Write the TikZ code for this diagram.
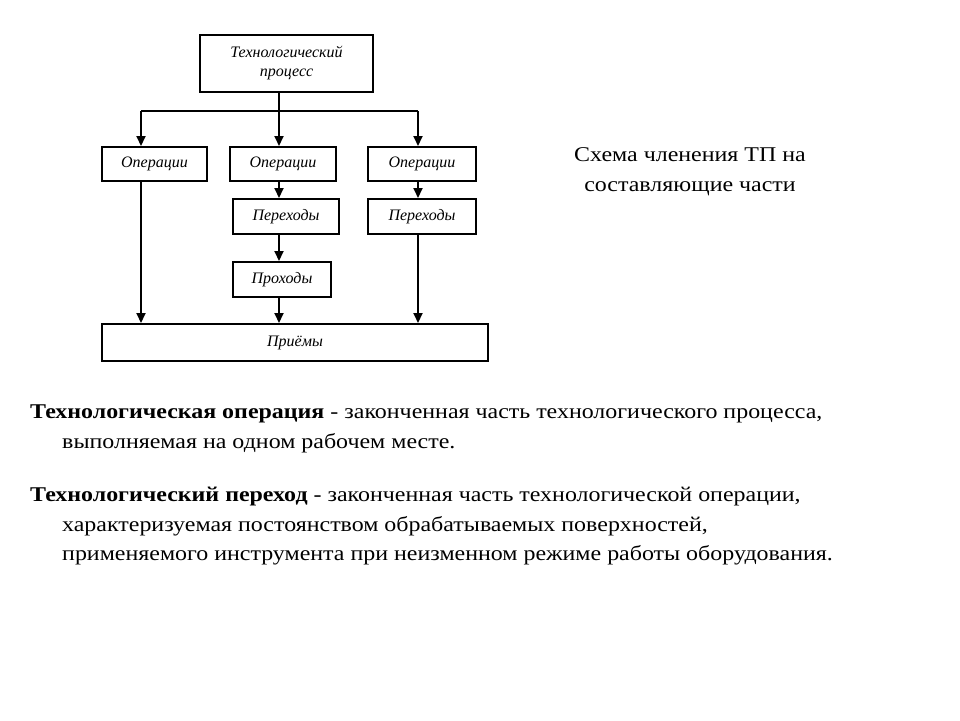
\documentclass[tikz,border=0pt]{standalone}
\usepackage{fontspec}
\setmainfont{Liberation Serif}
\newfontfamily\widefont[FakeStretch=1.14]{Liberation Serif}
\usetikzlibrary{arrows.meta}
\begin{document}
\begin{tikzpicture}[x=1pt,y=-1pt,
  blk/.style={draw,line width=2pt,inner sep=0pt,font=\itshape\fontsize{16}{19}\selectfont,align=center},
  arr/.style={line width=2pt,-{Triangle[length=10pt,width=9pt]}},
  ln/.style={line width=2pt},
  txt/.style={anchor=north west,inner sep=0pt,font=\widefont\fontsize{21}{29.5}\selectfont,align=left}]
\useasboundingbox (0,0) rectangle (960,720);
\node[blk,minimum width=173pt,minimum height=57pt] (tp) at (286.5,63.5) {Технологический\\процесс};
\node[blk,minimum width=105pt,minimum height=34pt] (op1) at (154.5,164) {Операции};
\node[blk,minimum width=106pt,minimum height=34pt] (op2) at (283,164) {Операции};
\node[blk,minimum width=108pt,minimum height=34pt] (op3) at (422,164) {Операции};
\node[blk,minimum width=106pt,minimum height=35pt] (pe2) at (286,216.5) {Переходы};
\node[blk,minimum width=108pt,minimum height=35pt] (pe3) at (422,216.5) {Переходы};
\node[blk,minimum width=98pt,minimum height=35pt] (pr2) at (282,279.5) {Проходы};
\node[blk,minimum width=386pt,minimum height=37pt] (pm) at (295,342.5) {Приёмы};
\coordinate (bl) at (141,111);
\coordinate (bm) at (279,111);
\coordinate (br) at (418,111);
\draw[ln] (tp.south -| bm) -- (bm);
\draw[ln] (bl) -- (br);
\draw[arr] (bl) -- (bl |- op1.north);
\draw[arr] (bm) -- (bm |- op2.north);
\draw[arr] (br) -- (br |- op3.north);
\draw[arr] (op2.south -| bm) -- (bm |- pe2.north);
\draw[arr] (op3.south -| br) -- (br |- pe3.north);
\draw[arr] (pe2.south -| bm) -- (bm |- pr2.north);
\draw[arr] (op1.south -| bl) -- (bl |- pm.north);
\draw[arr] (pr2.south -| bm) -- (bm |- pm.north);
\draw[arr] (pe3.south -| br) -- (br |- pm.north);
\node[font=\widefont\fontsize{21}{30}\selectfont,align=center] (title) at (690,172) {Схема членения ТП на\\составляющие части};
\node[txt] (d1) at (30,405)
 {\textbf{Технологическая операция} - законченная часть технологического процесса,\\
 \hspace*{32pt}выполняемая на одном рабочем месте.};
\node[txt] (d2) at (30,487)
 {\textbf{Технологический переход} - законченная часть технологической операции,\\
 \hspace*{32pt}характеризуемая постоянством обрабатываемых поверхностей,\\
 \hspace*{32pt}применяемого инструмента при неизменном режиме работы оборудования.};
\end{tikzpicture}
\end{document}
